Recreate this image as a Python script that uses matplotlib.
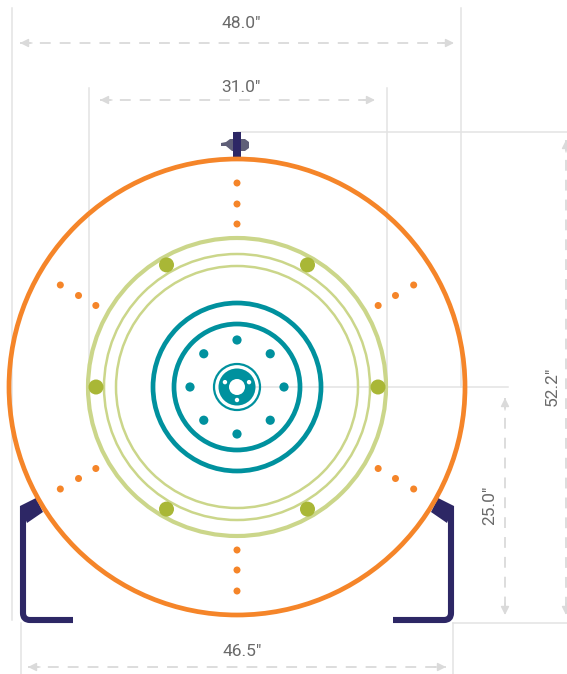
import numpy as np
import matplotlib
matplotlib.use("Agg")
import matplotlib.pyplot as plt
from matplotlib.patches import Circle, Polygon, PathPatch
from matplotlib.path import Path

ORANGE = "#F58529"; GREEN = "#CBD68A"; OLIVE = "#A9B736"; TEAL = "#00919E"; NAVY = "#2D2765"
GRID = "#E3E3E3"; ARROW = "#DADADA"; TXT = "#6A6A6A"

center = (237, 387)
orange_radius = [228]
green_radii = [149, 133, 121]
green_widths = [3, 1.8, 1.8]
teal_radii = [84, 63]
hub_radii = [23]
bolt_radius = 47
bolt_angles = [0, 45, 90, 135, 180, 225, 270, 315]
green_dot_radius = 141
green_dot_angles = [0, 60, 120, 180, 240, 300]
orange_dot_radii = [163, 183, 204]
orange_dot_angles = [30, 90, 150, 210, 270, 330]

ext_lines = [((12, 8), (12, 620)), ((461, 8), (461, 387)), ((89, 88), (89, 387)), ((387, 88), (387, 387)),
             ((237, 132), (567, 132)), ((237, 387), (508, 387)), ((453, 623), (567, 623)),
             ((21, 623), (21, 674)), ((453, 623), (453, 674))]
dims = [("48.0\"", (20, 43), (454, 43), (241, 23), 0),
        ("31.0\"", (100, 100), (375, 100), (241, 87), 0),
        ("46.5\"", (28, 667), (446, 667), (242, 652), 0),
        ("25.0\"", (505, 398), (505, 615), (490, 505), 90),
        ("52.2\"", (566, 140), (566, 615), (552, 386), 90)]

fig = plt.figure(figsize=(5.67, 6.74), dpi=100)
ax = fig.add_axes([0, 0, 1, 1])
ax.set_xlim(0, 567); ax.set_ylim(674, 0); ax.axis("off")

for a, b in ext_lines:
    ax.plot([a[0], b[0]], [a[1], b[1]], color=GRID, lw=1.1, zorder=1)

for label, a, b, t, rot in dims:
    ax.plot([a[0], b[0]], [a[1], b[1]], color=ARROW, lw=1.3, dashes=(6, 5), zorder=1)
    for p, q in ((a, b), (b, a)):
        ax.annotate("", xy=p, xytext=(p[0] + (q[0] - p[0]) * 12 / np.hypot(q[0] - p[0], q[1] - p[1]),
                                      p[1] + (q[1] - p[1]) * 12 / np.hypot(q[0] - p[0], q[1] - p[1])),
                    arrowprops=dict(arrowstyle="-|>,head_width=0.25,head_length=0.5", color=ARROW, lw=1, shrinkA=0, shrinkB=0))
    ax.text(t[0], t[1], label, rotation=rot, ha="center", va="center", color=TXT,
            fontsize=12.5, family="Roboto")

# navy supports
for s, end in ((-1, 164), (1, 156)):
    x = lambda d: center[0] + s * d
    ax.add_patch(Polygon([(x(217), 506), (x(201), 498), (x(194), 512), (x(210), 523)], closed=True, color=NAVY, lw=0, zorder=2))
    verts = [(x(214), 506), (x(214), 613), (x(214), 620), (x(207), 620), (x(end), 620)]
    codes = [Path.MOVETO, Path.LINETO, Path.CURVE3, Path.CURVE3, Path.LINETO]
    ax.add_patch(PathPatch(Path(verts, codes), fill=False, ec=NAVY, lw=4.4, capstyle="butt", joinstyle="round", zorder=2))

# top bolt
ax.add_patch(Polygon([(221, 143), (226, 142), (230, 139), (245, 139), (249, 142), (249, 148), (245, 151), (232, 151),
                      (226, 146), (221, 146)], closed=True, color="#5F5F78", lw=0, zorder=2))
ax.add_patch(Polygon([(233, 132), (241, 132), (241, 158), (233, 158)], closed=True, color=NAVY, lw=0, zorder=3))

def ring(r, c, lw):
    ax.add_patch(Circle(center, r, fill=False, ec=c, lw=lw, zorder=4))
def dot(r, ang, size, c):
    a = np.deg2rad(ang)
    ax.add_patch(Circle((center[0] + r * np.cos(a), center[1] - r * np.sin(a)), size, color=c, lw=0, zorder=5))

for r in orange_radius:
    ring(r, ORANGE, 3.4)
for r, w in zip(green_radii, green_widths):
    ring(r, GREEN, w)
for r in teal_radii:
    ring(r, TEAL, 3.4)
for r in hub_radii:
    ring(r, TEAL, 1.6)
ax.add_patch(Circle(center, 18.5, color=TEAL, lw=0, zorder=5))
ax.add_patch(Circle(center, 8, color="white", lw=0, zorder=6))
for ang in [22, 158, 270]:
    a = np.deg2rad(ang)
    ax.add_patch(Circle((center[0] + 13 * np.cos(a), center[1] - 13 * np.sin(a)), 2.2, color="white", lw=0, zorder=6))

for ang in bolt_angles:
    dot(bolt_radius, ang, 4.6, TEAL)
for ang in green_dot_angles:
    dot(green_dot_radius, ang, 7.5, OLIVE)
for ang in orange_dot_angles:
    for r in orange_dot_radii:
        dot(r, ang, 3.5, ORANGE)

fig.savefig("out.png", dpi=100)
